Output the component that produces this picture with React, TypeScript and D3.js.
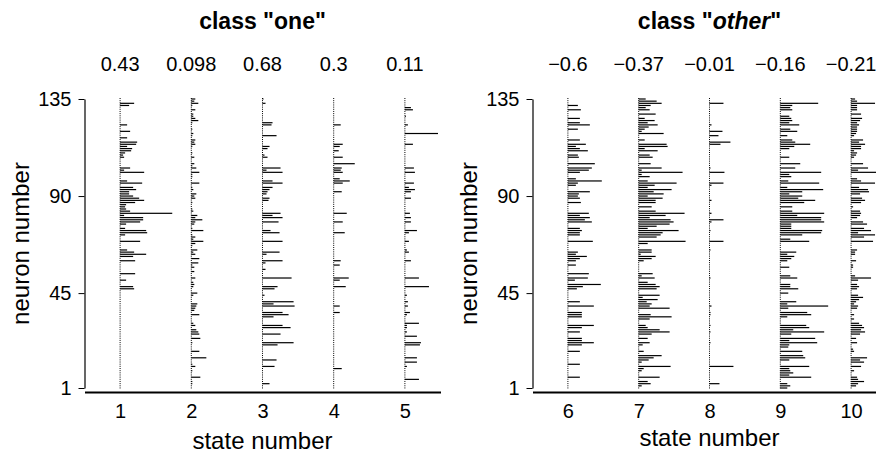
import { useEffect, useRef } from "react";
import * as d3 from "d3";

const W = 876;
const H = 461;

// states per class and the numbers printed above each state
const classOneStates = [1, 2, 3, 4, 5];
const classOneScores = ["0.43", "0.098", "0.68", "0.3", "0.11"];
const classOtherStates = [6, 7, 8, 9, 10];
const classOtherScores = ["\u22120.6", "\u22120.37", "\u22120.01", "\u22120.16", "\u22120.21"];
const neuronTicks = [1, 45, 90, 135];

// [neuron, weight] - weight in units where 71 = one state step
const state1 = [[133,14],[132,9],[123,7],[120,10],[117,7],[115,17],[114,16],[113,7],[112,12],[111,11],[110,5],[109,3],[108,4],[103,10],[102,4],[101,24],[97,7],[96,22],[94,13],[93,16],[92,9],[91,9],[90,13],[89,19],[88,24],[87,15],[86,6],[85,5],[84,6],[83,10],[82,52],[81,4],[80,23],[79,23],[78,20],[77,6],[75,5],[74,26],[73,27],[72,5],[69,20],[65,7],[64,14],[63,26],[62,13],[60,15],[54,15],[51,6],[48,13],[47,14]];
const state2 = [[135,4],[134,3],[133,7],[132,1],[130,4],[128,2],[127,2],[126,4],[125,7],[124,1],[121,1],[119,2],[118,1],[116,4],[115,3],[114,4],[113,1],[110,1],[108,3],[105,3],[104,1],[103,5],[101,8],[100,1],[99,1],[96,8],[94,1],[93,2],[91,5],[90,3],[89,4],[87,1],[84,1],[83,2],[81,6],[80,4],[79,11],[78,4],[77,3],[75,1],[74,12],[72,1],[71,4],[70,2],[69,12],[68,4],[67,1],[65,6],[64,2],[63,4],[61,8],[59,7],[58,1],[57,3],[55,3],[52,4],[50,2],[49,3],[48,2],[45,6],[44,2],[40,6],[39,5],[38,4],[37,3],[35,8],[31,2],[30,4],[28,5],[27,7],[26,8],[24,9],[22,1],[18,8],[15,15],[12,1],[11,4],[9,1],[6,9],[4,1],[3,1]];
const state3 = [[135,1],[133,3],[124,10],[123,9],[118,14],[113,7],[112,5],[109,2],[108,5],[103,18],[102,4],[101,20],[97,10],[96,20],[94,10],[93,7],[92,5],[91,4],[89,7],[88,6],[82,18],[81,10],[80,20],[78,16],[74,8],[73,17],[69,20],[64,17],[63,4],[60,20],[59,3],[56,3],[52,29],[48,15],[47,12],[44,2],[41,31],[40,11],[39,32],[36,20],[35,26],[34,11],[30,20],[29,28],[26,18],[22,31],[21,15],[14,14],[11,12],[3,7]];
const state4 = [[123,7],[114,9],[113,6],[111,5],[108,9],[105,21],[103,8],[102,7],[101,9],[98,6],[97,16],[96,9],[92,8],[82,13],[78,9],[73,11],[60,7],[58,6],[52,15],[51,6],[48,12],[39,6],[36,6],[10,8]];
const state5 = [[131,6],[130,8],[127,1],[123,3],[119,33],[114,8],[103,9],[101,10],[96,9],[94,4],[93,10],[92,6],[89,6],[82,5],[80,6],[78,6],[74,12],[73,4],[69,4],[65,2],[64,4],[60,6],[52,14],[48,24],[44,2],[41,3],[39,3],[36,5],[35,2],[31,14],[30,2],[29,2],[27,2],[25,12],[22,16],[21,15],[15,12],[13,12],[11,2],[5,14]];
const state6 = [[132,10],[130,13],[126,12],[124,12],[123,22],[121,10],[116,12],[114,18],[113,8],[112,12],[111,20],[109,10],[108,11],[105,27],[103,24],[102,21],[101,12],[98,8],[97,34],[96,10],[95,8],[92,22],[91,11],[90,10],[89,12],[87,13],[82,21],[81,12],[80,22],[79,17],[78,24],[75,12],[74,14],[73,12],[72,12],[69,25],[64,10],[63,8],[62,19],[61,12],[60,8],[58,8],[54,21],[52,20],[51,7],[49,33],[48,15],[47,9],[41,12],[39,26],[36,14],[35,14],[34,14],[30,26],[29,14],[27,12],[24,14],[23,14],[22,26],[21,14],[18,12],[12,12],[6,12]];
const state7 = [[135,7],[134,18],[133,23],[132,12],[131,7],[130,11],[128,17],[126,6],[125,16],[124,9],[123,19],[122,10],[121,6],[120,3],[119,25],[116,6],[114,28],[113,29],[112,6],[111,19],[109,11],[108,14],[105,12],[103,23],[102,3],[101,44],[100,3],[99,11],[97,9],[96,38],[95,16],[94,9],[93,33],[92,15],[91,25],[90,9],[89,24],[88,17],[87,17],[85,13],[83,17],[82,46],[81,27],[80,11],[79,32],[78,35],[77,31],[76,18],[75,9],[74,40],[73,24],[72,22],[71,18],[69,47],[68,9],[65,13],[64,13],[63,2],[62,17],[61,13],[60,5],[54,14],[53,3],[52,16],[50,9],[49,17],[48,21],[47,18],[44,21],[43,4],[42,19],[41,8],[40,13],[39,11],[38,31],[35,12],[34,33],[33,11],[30,7],[29,9],[28,21],[27,31],[26,13],[24,9],[22,11],[21,4],[18,5],[16,23],[15,15],[14,10],[13,3],[11,32],[10,5],[9,3],[6,21],[4,9],[3,12],[2,3]];
const state8 = [[133,14],[123,2],[120,13],[118,9],[115,21],[114,11],[103,1],[101,15],[96,14],[95,2],[88,2],[82,2],[79,14],[78,2],[74,1],[69,14],[65,1],[52,1],[39,2],[36,1],[35,1],[30,1],[27,1],[22,1],[11,24],[3,10]];
const state9 = [[133,38],[132,12],[131,10],[130,12],[127,9],[126,11],[125,12],[124,9],[123,19],[121,10],[120,17],[118,7],[116,12],[115,15],[114,30],[113,14],[112,9],[108,9],[105,20],[103,15],[101,41],[100,9],[99,11],[97,8],[96,39],[94,7],[93,43],[92,22],[91,9],[90,22],[89,18],[88,35],[87,24],[85,12],[83,12],[82,44],[81,17],[80,41],[79,41],[78,44],[77,11],[76,11],[75,11],[74,42],[73,41],[72,22],[70,10],[69,29],[64,16],[63,7],[62,14],[61,11],[60,7],[57,9],[53,10],[52,17],[49,10],[48,10],[47,18],[45,8],[41,16],[40,7],[39,48],[38,8],[36,27],[35,31],[34,7],[30,26],[29,29],[28,13],[27,44],[26,11],[24,35],[23,9],[22,37],[21,9],[20,8],[18,22],[16,23],[15,25],[14,9],[11,29],[10,9],[9,10],[8,13],[7,9],[6,31],[3,7],[2,10],[1,7]];
const state10 = [[135,4],[134,6],[133,24],[132,6],[131,6],[130,6],[128,10],[126,11],[125,9],[124,6],[123,8],[122,6],[121,6],[120,6],[119,5],[118,3],[116,12],[115,8],[114,14],[113,10],[112,10],[111,3],[110,6],[109,5],[108,3],[105,12],[103,17],[102,7],[101,30],[98,6],[97,10],[96,24],[94,8],[93,17],[92,18],[91,9],[89,11],[88,14],[87,10],[85,2],[83,9],[82,10],[81,9],[80,6],[78,12],[77,16],[75,13],[74,20],[73,7],[72,24],[71,13],[69,22],[65,6],[64,4],[63,4],[60,5],[58,2],[57,2],[53,4],[52,20],[51,7],[49,6],[48,8],[47,6],[44,7],[43,12],[42,8],[41,5],[40,3],[39,7],[38,6],[35,3],[33,3],[31,8],[30,11],[29,13],[28,10],[27,14],[26,9],[24,5],[22,6],[19,2],[18,3],[15,16],[14,9],[13,13],[11,10],[9,3],[6,6],[5,7],[4,13],[3,7],[2,5]];

const FONT = "'Liberation Sans', Arial, Helvetica, sans-serif";

export default function App() {
  const ref = useRef<SVGSVGElement>(null);

  useEffect(() => {
    const svg = d3.select(ref.current);
    svg.selectAll("*").remove();

    const y = d3.scaleLinear().domain([1, 135]).range([388, 99]);

    const panels = [
      { states: classOneStates, scores: classOneScores, data: [state1, state2, state3, state4, state5], range: [84.5, 440.5], title: ["class \"", "one", "\""], italic: false },
      { states: classOtherStates, scores: classOtherScores, data: [state6, state7, state8, state9, state10], range: [532.5, 886.5], title: ["class \"", "other", "\""], italic: true },
    ];

    panels.forEach((p, pi) => {
      const x = d3
        .scaleLinear()
        .domain([p.states[0] - 0.5, p.states[p.states.length - 1] + 0.5])
        .range(p.range);
      const step = x(p.states[1]) - x(p.states[0]);
      const len = d3.scaleLinear().domain([0, 71]).range([0, step]);
      const g = svg.append("g");
      const xMid = x((p.states[0] + p.states[4]) / 2);

      // dotted zero lines
      g.selectAll("line.base")
        .data(p.states)
        .enter()
        .append("line")
        .attr("x1", (d) => x(d))
        .attr("x2", (d) => x(d))
        .attr("y1", y(135) - 1)
        .attr("y2", y(1) + 1)
        .attr("stroke", "#000")
        .attr("stroke-width", 1)
        .attr("stroke-dasharray", "1,1.16");

      // bars
      p.states.forEach((s, i) => {
        g.selectAll(null)
          .data(p.data[i])
          .enter()
          .append("rect")
          .attr("x", x(s))
          .attr("y", (d) => y(d[0]) - 0.6)
          .attr("width", (d) => len(d[1]))
          .attr("height", 1.2)
          .attr("fill", "#000");
      });

      // y axis
      const ya = g
        .append("g")
        .attr("transform", `translate(${p.range[0]},0)`)
        .call(d3.axisLeft(y).tickValues(neuronTicks).tickSize(6).tickSizeOuter(0).tickPadding(7));
      ya.select(".domain").attr("stroke-width", 1.2);
      ya.selectAll("text").style("font-family", FONT).style("font-size", "20px").attr("fill", "#000");

      // x axis
      const xa = g
        .append("g")
        .attr("transform", `translate(0,392)`)
        .call(d3.axisBottom(x).tickValues(p.states).tickSize(0).tickSizeOuter(0).tickPadding(12).tickFormat(d3.format("d")));
      xa.select(".domain").attr("stroke-width", 2);
      xa.selectAll("text").style("font-family", FONT).style("font-size", "20px").attr("fill", "#000");

      // scores above states
      g.selectAll("text.score")
        .data(p.states)
        .enter()
        .append("text")
        .attr("x", (d) => x(d))
        .attr("y", 71)
        .attr("text-anchor", "middle")
        .style("font-family", FONT)
        .style("font-size", "20px")
        .text((d, i) => p.scores[i]);

      // title
      const t = g
        .append("text")
        .attr("x", xMid)
        .attr("y", 29)
        .attr("text-anchor", "middle")
        .style("font-family", FONT)
        .style("font-size", "23px")
        .style("font-weight", "bold");
      t.append("tspan").text(p.title[0]);
      t.append("tspan").style("font-style", p.italic ? "italic" : "normal").text(p.title[1]);
      t.append("tspan").text(p.title[2]);

      // axis titles
      g.append("text")
        .attr("x", xMid)
        .attr("y", pi === 0 ? 449 : 446)
        .attr("text-anchor", "middle")
        .style("font-family", FONT)
        .style("font-size", "24px")
        .text("state number");

      g.append("text")
        .attr("transform", `translate(${p.range[0] - 56},${(y(1) + y(135)) / 2}) rotate(-90)`)
        .attr("text-anchor", "middle")
        .style("font-family", FONT)
        .style("font-size", "24px")
        .text("neuron number");
    });
  }, []);

  return (
    <svg
      ref={ref}
      width={W}
      height={H}
      style={{ position: "absolute", left: 0, top: 0, background: "#fff" }}
    />
  );
}
